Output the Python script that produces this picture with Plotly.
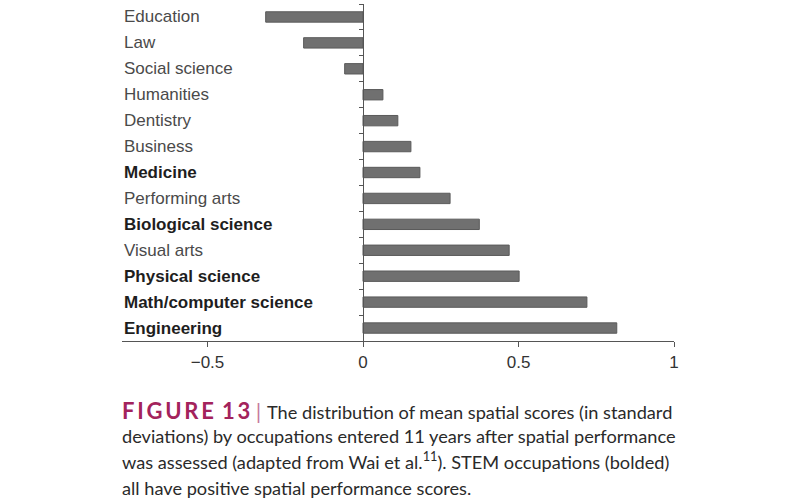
import plotly.graph_objects as go

categories = ["Education", "Law", "Social science", "Humanities", "Dentistry",
              "Business", "Medicine", "Performing arts", "Biological science",
              "Visual arts", "Physical science", "Math/computer science", "Engineering"]
scores = [-0.313, -0.191, -0.059, 0.064, 0.112, 0.154, 0.183, 0.28, 0.374,
          0.47, 0.502, 0.72, 0.816]
stem = ["Medicine", "Biological science", "Physical science",
        "Math/computer science", "Engineering"]
x_ticks = [-0.5, 0, 0.5, 1]
x_tick_labels = ["\u22120.5", "0", "0.5", "1"]
x_range = [-0.775, 1.0]

W, H = 800, 500
L, R, T, B = 122, 126, 4, 159
plot_h = H - T - B

def py(pix):
    # pixel y (from top) -> paper fraction
    return (H - B - pix) / plot_h

fig = go.Figure()
fig.add_trace(go.Bar(
    x=scores, y=categories, orientation="h", width=0.4,
    marker=dict(color="#707070", line=dict(color="#5a5a5a", width=1)),
    hoverinfo="skip",
))

annotations = []
for c in categories:
    bold = c in stem
    annotations.append(dict(
        x=0, xref="paper", y=c, yref="y", xanchor="left", yanchor="middle",
        text=f"<b>{c}</b>" if bold else c, showarrow=False,
        font=dict(family="Liberation Sans, Arial, sans-serif", size=17,
                  color="#1e1e1e" if bold else "#4a4a4a"),
    ))

cap_font = dict(family="Lato, sans-serif", size=18.2, color="#2a2a2a")
mag = "#a3235c"
lines = [
    f"<span style='color:{mag};font-size:22px'><b>F\u2009I\u2009G\u2009U\u2009R\u2009E\u2009 1\u20093</b></span>"
    f"<span style='color:#c77a9b;font-size:22px'> | </span>The distribution of mean spatial scores (in standard",
    "deviations) by occupations entered 11 years after spatial performance",
    "was assessed (adapted from Wai et al.<sup>11</sup>). STEM occupations (bolded)",
    "all have positive spatial performance scores.",
]
line_y = [410, 436, 460.5, 488]
for t, yy in zip(lines, line_y):
    annotations.append(dict(
        x=-0.004, xref="paper", y=py(yy), yref="paper", xanchor="left",
        yanchor="middle", text=t, showarrow=False, font=cap_font, align="left",
    ))

fig.update_layout(
    width=W, height=H, margin=dict(l=L, r=R, t=T, b=B),
    paper_bgcolor="white", plot_bgcolor="white", showlegend=False,
    bargap=0.6, annotations=annotations,
    xaxis=dict(range=x_range, tickvals=x_ticks, ticktext=x_tick_labels,
               showgrid=False, zeroline=False, showline=True,
               linecolor="#555", linewidth=1.3, ticks="outside", ticklen=5,
               tickcolor="#555", tickwidth=1.3,
               tickfont=dict(family="Liberation Sans, Arial, sans-serif",
                             size=17, color="#333")),
    yaxis=dict(categoryorder="array", categoryarray=categories,
               autorange="reversed", anchor="free",
               position=(0 - x_range[0]) / (x_range[1] - x_range[0]),
               showticklabels=False, showgrid=False, zeroline=False,
               showline=True, linecolor="#555", linewidth=1.3,
               ticks="outside", ticklen=4, tickcolor="#555", tickwidth=1.3,
               tickson="boundaries"),
)

fig.write_html("out.html", config={"displayModeBar": False},
               post_script="document.body.style.margin='0';document.body.style.padding='0';")
